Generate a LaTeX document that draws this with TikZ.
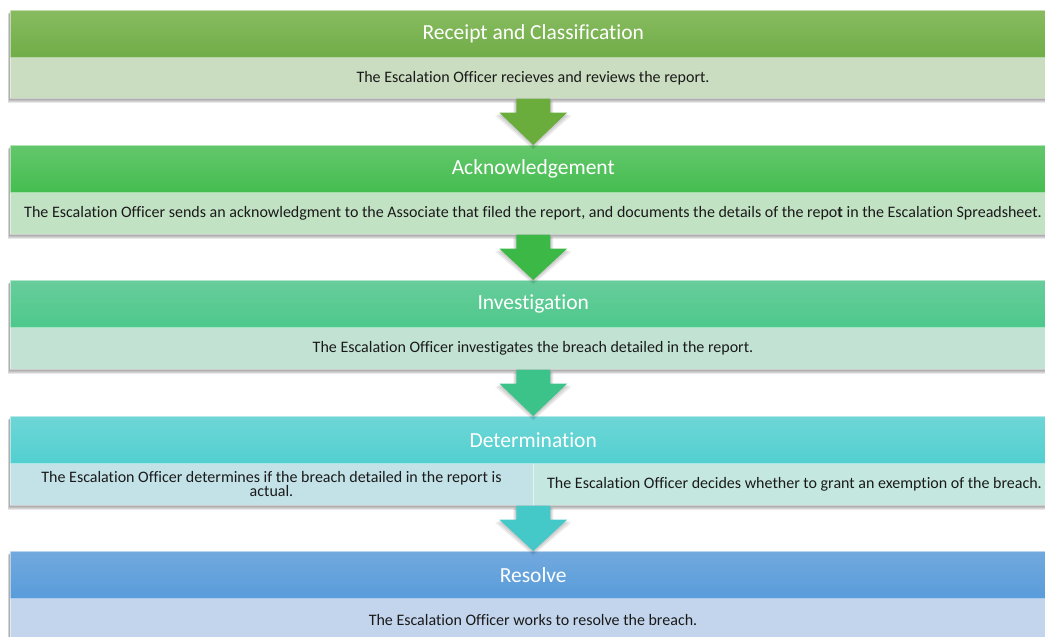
\documentclass[tikz,border=0pt]{standalone}
\usepackage{fontspec}
\setmainfont{Carlito}[Ligatures=NoCommon]
\usetikzlibrary{calc,backgrounds}
\definecolor{hAt}{HTML}{88BB60}\definecolor{hAb}{HTML}{70AD47}\definecolor{bA}{HTML}{CADDC0}
\definecolor{hBt}{HTML}{63C76B}\definecolor{hBb}{HTML}{45BD50}\definecolor{bB}{HTML}{C2E2C4}
\definecolor{hCt}{HTML}{68CD9B}\definecolor{hCb}{HTML}{4DC88C}\definecolor{bC}{HTML}{C2E3D3}
\definecolor{hDt}{HTML}{6ED6D6}\definecolor{hDb}{HTML}{52CFD0}\definecolor{bDl}{HTML}{C3E2E8}\definecolor{bDr}{HTML}{C4E8E0}
\definecolor{hEt}{HTML}{72A9DE}\definecolor{hEb}{HTML}{589CDA}\definecolor{bE}{HTML}{C3D5EC}
\definecolor{aA}{HTML}{6AAD3C}\definecolor{aB}{HTML}{3BB845}\definecolor{aC}{HTML}{3CC389}\definecolor{aD}{HTML}{44C8C8}
\definecolor{txt}{HTML}{1A1A1A}
\begin{document}
\begin{tikzpicture}[x=1pt,y=-1pt,
  head/.style={rectangle,anchor=north west,minimum width=1046pt,minimum height=47pt,inner sep=0pt,
     text=white,font=\fontsize{21.5}{24}\selectfont,draw=white,draw opacity=0.5,line width=0.5pt},
  body/.style={rectangle,anchor=north,minimum width=1046pt,minimum height=41pt,inner sep=0pt,
     text=txt,font=\fontsize{16}{17}\selectfont,draw=white,draw opacity=0.5,line width=0.5pt},
  half/.style={body,minimum width=523pt},
  shadelayer/.style={black,opacity=0.09}
]
\useasboundingbox (0,0) rectangle (1045,637);
\clip (0,0) rectangle (1045,637);

% box 1
\node[body,fill=bA,minimum height=41pt] (b1) at (533,57) {\raisebox{-1pt}{The Escalation Officer recieves and reviews the report.}};
\node[head,top color=hAt,bottom color=hAb] (h1) at (10,10) {Receipt and Classification};
% box 2
\node[body,fill=bB,minimum height=42pt] (b2) at (533,192) {\raisebox{-1pt}{The Escalation Officer sends an acknowledgment to the Associate that filed the report, and documents the details of the repo\textbf{t} in the Escalation Spreadsheet.}};
\node[head,top color=hBt,bottom color=hBb] (h2) at (10,145) {Acknowledgement};
% box 3
\node[body,fill=bC,minimum height=42pt] (b3) at (533,327) {\raisebox{-1pt}{The Escalation Officer investigates the breach detailed in the report.}};
\node[head,top color=hCt,bottom color=hCb] (h3) at (10,280) {Investigation};
% box 4
\node[half,fill=bDl,minimum height=42pt,align=center,font=\fontsize{16}{14}\selectfont] (b4l) at (271.5,463) {The Escalation Officer determines if the breach detailed in the report is\\actual.};
\node[half,fill=bDr,minimum height=42pt] (b4r) at (794.5,463) {The Escalation Officer decides whether to grant an exemption of the breach.};
\node[head,top color=hDt,bottom color=hDb] (h4) at (10,416) {Determination};
% box 5
\node[body,fill=bE,minimum height=45pt] (b5) at (533,597) {The Escalation Officer works to resolve the breach.};
\node[head,top color=hEt,bottom color=hEb] (h5) at (10,551) {Resolve};

% soft shadows under the boxes
\begin{scope}[on background layer]
\foreach \h/\b in {h1/b1, h2/b2, h3/b3, h4/b4r, h5/b5}{
  \foreach \d in {1,2,3,4,5}{
    \fill[shadelayer] ($(\h.north west)+(-0.4*\d,1+0.5*\d)$) rectangle ($(\b.south east)+(0.4*\d,0.8*\d)$);
  }
}
\end{scope}

% block arrows
\foreach \src/\dst/\col in {b1/h2/aA, b2/h3/aB, b3/h4/aC, b4l/h5/aD}{
  \coordinate (s) at (\src.south -| \dst.north);
  \foreach \d in {1,2,3}{
    \fill[black,opacity=0.07] ($(s)+(-17-\d,\d)$) -- ($(s)+(17+\d,\d)$) -- ($(s)+(17+\d,14+\d)$) -- ($(s)+(34+1.5*\d,14+\d)$)
       -- ($(\dst.north)+(0,1.5*\d)$) -- ($(s)+(-34-1.5*\d,14+\d)$) -- ($(s)+(-17-\d,14+\d)$) -- cycle;
  }
  \fill[\col] ($(s)+(-17,0)$) -- ($(s)+(17,0)$) -- ($(s)+(17,14)$) -- ($(s)+(34,14)$)
     -- (\dst.north) -- ($(s)+(-34,14)$) -- ($(s)+(-17,14)$) -- cycle;
}
\end{tikzpicture}
\end{document}
